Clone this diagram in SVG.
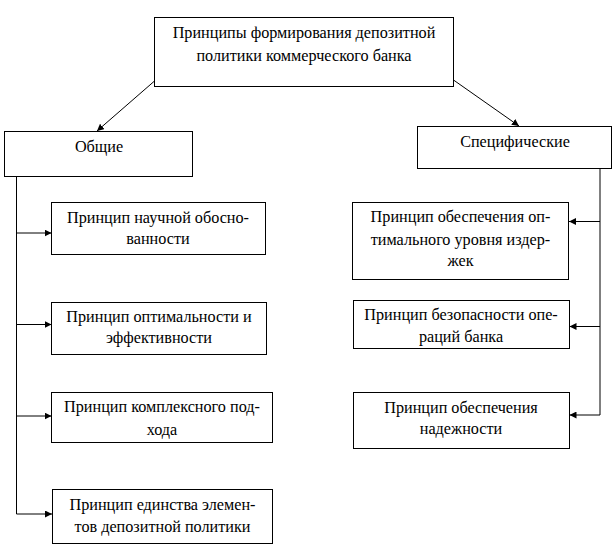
<svg xmlns="http://www.w3.org/2000/svg" width="616" height="552" viewBox="0 0 616 552">
<style>
.box{fill:#fff;stroke:#000;stroke-width:1}
.t{font-family:"Liberation Serif","Times New Roman",serif;font-size:16.2px;fill:#000;text-anchor:middle}
.c{stroke:#000;stroke-width:1;fill:none}
</style>
<defs>
<marker id="ah" viewBox="0 0 10 10" refX="10" refY="5" markerWidth="7" markerHeight="7" markerUnits="userSpaceOnUse" orient="auto">
<path d="M0,0 L10,5 L0,10 z" fill="#000"/>
</marker>
</defs>
<rect width="616" height="552" fill="#fff"/>
<g id="connectors">
<line class="c" x1="154.5" y1="81" x2="97" y2="131" marker-end="url(#ah)"/>
<line class="c" x1="453.5" y1="80" x2="519" y2="126" marker-end="url(#ah)"/>
<line class="c" x1="16.5" y1="176" x2="16.5" y2="514"/>
<line class="c" x1="16.5" y1="233" x2="51.5" y2="233" marker-end="url(#ah)"/>
<line class="c" x1="16.5" y1="324.5" x2="51.5" y2="324.5" marker-end="url(#ah)"/>
<line class="c" x1="16.5" y1="416" x2="51.5" y2="416" marker-end="url(#ah)"/>
<line class="c" x1="16.5" y1="514" x2="52" y2="514" marker-end="url(#ah)"/>
<line class="c" x1="600" y1="169" x2="600" y2="415"/>
<line class="c" x1="600" y1="221.5" x2="569" y2="221.5" marker-end="url(#ah)"/>
<line class="c" x1="600" y1="326.5" x2="569.5" y2="326.5" marker-end="url(#ah)"/>
<line class="c" x1="600" y1="415" x2="569.5" y2="415" marker-end="url(#ah)"/>
</g>
<g id="root">
<rect class="box" x="154.5" y="17.5" width="299" height="69"/>
<text class="t" x="304" y="38">Принципы формирования депозитной</text>
<text class="t" x="304" y="61">политики коммерческого банка</text>
</g>
<g id="general">
<rect class="box" x="4.5" y="131.5" width="188" height="45"/>
<text class="t" x="99" y="152">Общие</text>
</g>
<g id="specific">
<rect class="box" x="417.5" y="126.5" width="194" height="42"/>
<text class="t" x="515" y="147">Специфические</text>
</g>
<g id="g1">
<rect class="box" x="51.5" y="202.5" width="214" height="52"/>
<text class="t" x="158" y="222.5">Принцип научной обосно-</text>
<text class="t" x="158" y="243.5">ванности</text>
</g>
<g id="g2">
<rect class="box" x="51.5" y="302.5" width="215" height="52"/>
<text class="t" x="159" y="322">Принцип оптимальности и</text>
<text class="t" x="159" y="343">эффективности</text>
</g>
<g id="g3">
<rect class="box" x="51.5" y="392.5" width="221" height="50"/>
<text class="t" x="162" y="412">Принцип комплексного под-</text>
<text class="t" x="162" y="434.5">хода</text>
</g>
<g id="g4">
<rect class="box" x="52.5" y="489.5" width="220" height="54"/>
<text class="t" x="162.5" y="510">Принцип единства элемен-</text>
<text class="t" x="162.5" y="532">тов депозитной политики</text>
</g>
<g id="s1">
<rect class="box" x="352.5" y="202.5" width="216" height="77"/>
<text class="t" x="460.5" y="222">Принцип обеспечения оп-</text>
<text class="t" x="460.5" y="244.5">тимального уровня издер-</text>
<text class="t" x="460.5" y="265.5">жек</text>
</g>
<g id="s2">
<rect class="box" x="353.5" y="300.5" width="216" height="48"/>
<text class="t" x="461" y="320">Принцип безопасности опе-</text>
<text class="t" x="461" y="341.5">раций банка</text>
</g>
<g id="s3">
<rect class="box" x="353.5" y="392.5" width="216" height="56"/>
<text class="t" x="461" y="413">Принцип обеспечения</text>
<text class="t" x="461" y="433.5">надежности</text>
</g>
</svg>
